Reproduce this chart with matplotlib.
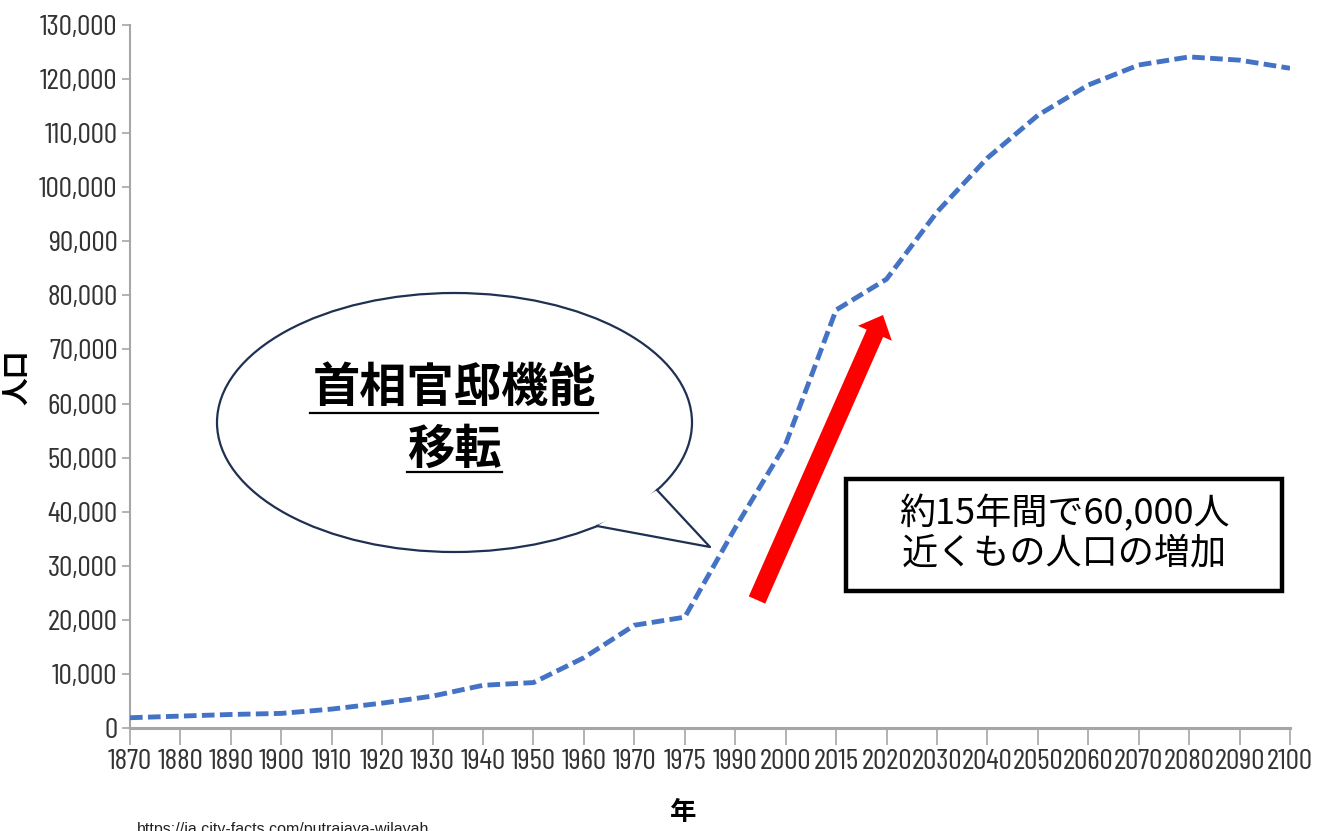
import matplotlib
matplotlib.use("Agg")
import matplotlib.pyplot as plt
from matplotlib import font_manager
from matplotlib.patches import Ellipse, Polygon, Rectangle, FancyArrow
from matplotlib.ticker import FuncFormatter

plt.rcParams['font.family'] = ['Noto Sans CJK JP', 'DejaVu Sans']

# 年ごとの人口
years = ['1870', '1880', '1890', '1900', '1910', '1920', '1930', '1940',
         '1950', '1960', '1970', '1975', '1990', '2000', '2015', '2020',
         '2030', '2040', '2050', '2060', '2070', '2080', '2090', '2100']
population = [1900, 2200, 2500, 2700, 3500, 4600, 5900, 7900,
              8400, 13000, 19000, 20500, 37000, 52500, 77300, 83000,
              95400, 105400, 113300, 118900, 122600, 124100, 123500, 122000]
y_ticks = list(range(0, 130001, 10000))

bubble_lines = ['首相官邸機能', '移転']
box_lines = ['約15年間で60,000人', '近くもの人口の増加']
source_url = 'https://ja.city-facts.com/putrajaya-wilayah'

names = {f.name for f in font_manager.fontManager.ttflist}
tick_font = 'Barlow Condensed' if 'Barlow Condensed' in names else 'DejaVu Sans'

W, H = 1319, 831
fig = plt.figure(figsize=(W / 100, H / 100), dpi=100)
ax = fig.add_axes([130 / W, 1 - 728 / H, 1160 / W, 703 / H])

x = list(range(len(years)))
ax.plot(x, population, color='#4472C4', lw=3.5, dashes=(2.6, 1.1),
        solid_capstyle='butt', dash_capstyle='butt', zorder=3)

ax.set_xlim(0, len(years) - 1)
ax.set_ylim(0, 130000)
ax.set_xticks(x)
ax.set_xticklabels(years)
ax.set_yticks(y_ticks)
ax.yaxis.set_major_formatter(FuncFormatter(lambda v, p: f'{int(v):,}'))

for s in ['top', 'right']:
    ax.spines[s].set_visible(False)
ax.spines['left'].set_color('#A6A6A6')
ax.spines['left'].set_linewidth(1.5)
ax.spines['bottom'].set_color('#A6A6A6')
ax.spines['bottom'].set_linewidth(2.2)
ax.tick_params(axis='y', length=6, width=1.2, color='#A6A6A6', pad=3)
ax.tick_params(axis='x', length=12, width=1.2, color='#A6A6A6', pad=3)
for lab in ax.get_xticklabels() + ax.get_yticklabels():
    lab.set_fontfamily(tick_font)
    lab.set_fontsize(21.5)
    lab.set_color('#333333')

# 注記用のピクセル座標の重ね軸
ov = fig.add_axes([0, 0, 1, 1])
ov.set_xlim(0, W)
ov.set_ylim(H, 0)
ov.axis('off')
ov.set_zorder(5)
ov.patch.set_visible(False)

ov.text(18, 377, '人口', rotation=90, fontsize=20, fontweight='bold',
        ha='center', va='center')
ov.text(683, 812, '年', fontsize=19, fontweight='bold', ha='center', va='center')
ov.text(137, 822, source_url, fontsize=11.5, color='#222222', va='top',
        family=['Liberation Sans', 'DejaVu Sans'])

# 吹き出し
navy = '#1F3052'
ov.add_patch(Ellipse((454.5, 422.5), 475, 259, facecolor='white',
                     edgecolor=navy, lw=1.6))
tail = [(657, 490), (710, 547), (597, 526)]
ov.add_patch(Polygon(tail, closed=True, facecolor='white', edgecolor='none'))
ov.plot([tail[0][0], tail[1][0], tail[2][0]], [tail[0][1], tail[1][1], tail[2][1]],
        color=navy, lw=1.6)

ov.text(454.5, 388, bubble_lines[0], fontsize=34, fontweight='bold',
        ha='center', va='center')
ov.plot([310, 598], [413, 413], color='black', lw=1.6)
ov.text(454.5, 450, bubble_lines[1], fontsize=34, fontweight='bold',
        ha='center', va='center')
ov.plot([407, 502], [472, 472], color='black', lw=1.6)

# 赤い矢印
ov.add_patch(FancyArrow(757, 600, 126, -285, width=18, head_width=37,
                        head_length=20, length_includes_head=True,
                        color='#FF0000', lw=0))

# テキストボックス
ov.add_patch(Rectangle((846, 479), 436, 112, facecolor='white',
                       edgecolor='black', lw=3.2))
ov.text(1064, 514, box_lines[0], fontsize=26, ha='center', va='center')
ov.text(1064, 553, box_lines[1], fontsize=26, ha='center', va='center')

fig.savefig('out.png', dpi=100, facecolor='white')
